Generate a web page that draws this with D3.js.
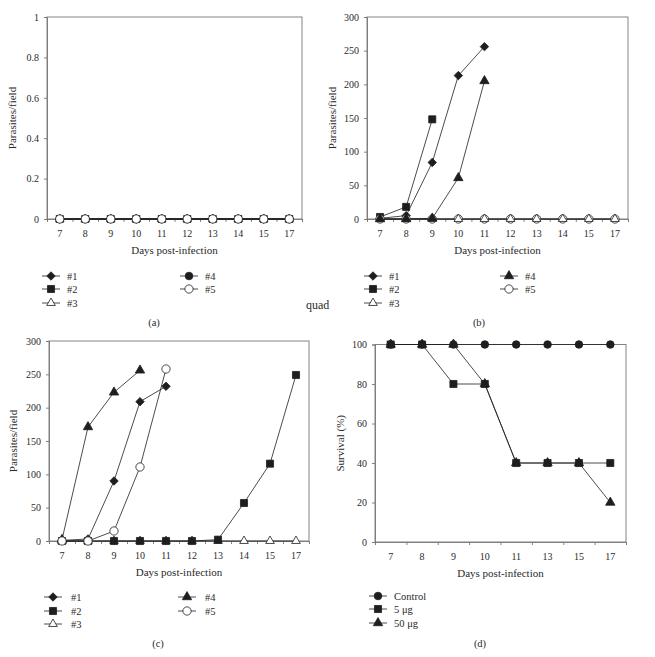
<!DOCTYPE html>
<html>
<head>
<meta charset="utf-8">
<script src="https://cdn.jsdelivr.net/npm/d3@7"></script>
<style>
  body { margin: 0; background: #fff; }
  svg text { font-family: "Liberation Serif", "DejaVu Serif", serif; }
</style>
</head>
<body>
<svg width="655" height="657"></svg>
<script>
// days on the x axis
const daysABC = ['7', '8', '9', '10', '11', '12', '13', '14', '15', '17']
const daysD = ['7', '8', '9', '10', '11', '13', '15', '17']

const mouseNames = ['#1', '#2', '#3', '#4', '#5']
const groupNames = ['Control', '5 μg', '50 μg']

// parasites/field, null = no more readings (animal died)
const valuesA = [
    [0, 0, 0, 0, 0, 0, 0, 0, 0, 0],
    [0, 0, 0, 0, 0, 0, 0, 0, 0, 0],
    [0, 0, 0, 0, 0, 0, 0, 0, 0, 0],
    [0, 0, 0, 0, 0, 0, 0, 0, 0, 0],
    [0, 0, 0, 0, 0, 0, 0, 0, 0, 0]
]
const valuesB = [
    [1, 5, 84, 213, 256, null, null, null, null, null],
    [3, 18, 148, null, null, null, null, null, null, null],
    [0, 0, 0, 0, 0, 0, 0, 0, 0, 0],
    [0, 0, 1, 61, 205, null, null, null, null, null],
    [0, 0, 0, 0, 0, 0, 0, 0, 0, 0]
]
const valuesC = [
    [1, 3, 90, 209, 232, null, null, null, null, null],
    [0, 0, 0, 0, 0, 0, 2, 57, 116, 249],
    [0, 0, 0, 0, 0, 0, 0, 0, 0, 0],
    [2, 171, 223, 256, null, null, null, null, null, null],
    [0, 0, 15, 111, 258, null, null, null, null, null]
]
// survival (%)
const valuesD = [
    [100, 100, 100, 100, 100, 100, 100, 100],
    [100, 100, 80, 80, 40, 40, 40, 40],
    [100, 100, 100, 80, 40, 40, 40, 20]
]

const ticksParasitesSmall = [0, 0.2, 0.4, 0.6, 0.8, 1]
const ticksParasites = [0, 50, 100, 150, 200, 250, 300]
const ticksSurvival = [0, 20, 40, 60, 80, 100]

const svg = d3.select('svg')
const ink = '#1e1e1e'
const textInk = '#2a2a2a'
const axisGrey = '#777'

// square turned 45 degrees
const symbolRhomb = {
    draw(context, size) {
        const r = Math.sqrt(size / 2)
        context.moveTo(0, -r)
        context.lineTo(r, 0)
        context.lineTo(0, r)
        context.lineTo(-r, 0)
        context.closePath()
    }
}

const markers = {
    diamond: { type: symbolRhomb, size: 36, fill: ink },
    square: { type: d3.symbolSquare, size: 50, fill: ink },
    triOpen: { type: d3.symbolTriangle, size: 32, fill: '#fff' },
    triFilled: { type: d3.symbolTriangle, size: 38, fill: ink },
    dot: { type: d3.symbolCircle, size: 46, fill: ink },
    ring: { type: d3.symbolCircle, size: 54, fill: '#fff' }
}

const drawMarker = (g, m, x, y) => {
    g.append('path')
        .attr('transform', `translate(${x},${y})`)
        .attr('d', d3.symbol().type(m.type).size(m.size)())
        .attr('fill', m.fill)
        .attr('stroke', ink)
        .attr('stroke-width', 0.8)
}

const drawPanel = p => {
    const x = d3.scaleBand().domain(p.days).range(p.xRange)
    const y = d3.scaleLinear().domain(p.yDomain).range(p.yRange)
    const g = svg.append('g')

    // frame
    g.append('rect')
        .attr('x', p.xRange[0]).attr('y', p.yRange[1])
        .attr('width', p.xRange[1] - p.xRange[0])
        .attr('height', p.yRange[0] - p.yRange[1])
        .attr('fill', 'none').attr('stroke', axisGrey).attr('stroke-width', 0.9)

    // y axis
    const yAxis = g.append('g')
        .attr('transform', `translate(${p.xRange[0]},0)`)
        .call(d3.axisLeft(y).tickValues(p.yTicks).tickSize(3).tickPadding(5)
            .tickFormat(d3.format('~g')))
    yAxis.selectAll('text').attr('font-size', 10).attr('fill', textInk)

    // x axis: ticks at day boundaries, labels at day centres
    const edges = d3.scaleLinear().domain([0, p.days.length]).range(p.xRange)
    g.append('g')
        .attr('transform', `translate(0,${p.yRange[0]})`)
        .call(d3.axisBottom(edges).ticks(p.days.length).tickSize(3).tickFormat(''))
    const xAxis = g.append('g')
        .attr('transform', `translate(0,${p.yRange[0]})`)
        .call(d3.axisBottom(x).tickSize(0).tickPadding(11))
    xAxis.select('.domain').remove()
    xAxis.selectAll('text').attr('font-size', 10).attr('fill', textInk)

    g.selectAll('.domain, .tick line').attr('stroke', axisGrey).attr('stroke-width', 0.9)

    // titles
    g.append('text')
        .attr('x', (p.xRange[0] + p.xRange[1]) / 2)
        .attr('y', p.yRange[0] + 35)
        .attr('text-anchor', 'middle').attr('font-size', 11).attr('fill', textInk)
        .text('Days post-infection')
    g.append('text')
        .attr('transform', `translate(${p.yTitleX},${(p.yRange[0] + p.yRange[1]) / 2}) rotate(-90)`)
        .attr('text-anchor', 'middle').attr('font-size', 11).attr('fill', textInk)
        .text(p.yTitle)

    // series
    const cx = d => x(d) + x.bandwidth() / 2
    const line = d3.line()
        .defined(d => d.v !== null)
        .x(d => cx(d.day)).y(d => y(d.v))
    p.values.forEach(vals => {
        const pts = vals.map((v, j) => ({ day: p.days[j], v }))
        g.append('path').datum(pts)
            .attr('d', line).attr('fill', 'none')
            .attr('stroke', ink).attr('stroke-width', 0.8)
    })
    p.order.forEach(i => {
        p.values[i].forEach((v, j) => {
            if (v !== null) drawMarker(g, markers[p.markers[i]], cx(p.days[j]), y(v))
        })
    })

    // legend
    p.names.forEach((name, i) => {
        const [lx, ly] = p.legendCols[i]
        g.append('line')
            .attr('x1', lx - 9).attr('x2', lx + 9).attr('y1', ly).attr('y2', ly)
            .attr('stroke', ink).attr('stroke-width', 0.8)
        drawMarker(g, markers[p.markers[i]], lx, ly)
        g.append('text')
            .attr('x', lx + p.legendGap).attr('y', ly + 3.5)
            .attr('font-size', 10.5).attr('fill', textInk).text(name)
    })

    g.append('text')
        .attr('x', p.caption[0]).attr('y', p.caption[1])
        .attr('text-anchor', 'middle').attr('font-size', 10.5).attr('fill', textInk)
        .text(p.label)
}

drawPanel({
    label: '(a)', caption: [154, 326],
    days: daysABC, values: valuesA, names: mouseNames,
    markers: ['diamond', 'square', 'triOpen', 'dot', 'ring'],
    order: [0, 1, 2, 3, 4],
    xRange: [47, 302], yRange: [219, 17], yDomain: [0, 1], yTicks: ticksParasitesSmall,
    yTitle: 'Parasites/field', yTitleX: 16,
    legendCols: [[51, 276], [51, 289], [51, 303], [189, 276], [189, 289]], legendGap: 16
})

drawPanel({
    label: '(b)', caption: [479, 326],
    days: daysABC, values: valuesB, names: mouseNames,
    markers: ['diamond', 'square', 'triOpen', 'triFilled', 'ring'],
    order: [0, 1, 4, 2, 3],
    xRange: [367, 628], yRange: [219, 17], yDomain: [0, 300], yTicks: ticksParasites,
    yTitle: 'Parasites/field', yTitleX: 336,
    legendCols: [[373, 276], [373, 289], [373, 303], [509, 276], [509, 289]], legendGap: 16
})

drawPanel({
    label: '(c)', caption: [158, 647],
    days: daysABC, values: valuesC, names: mouseNames,
    markers: ['diamond', 'square', 'triOpen', 'triFilled', 'ring'],
    order: [0, 2, 1, 3, 4],
    xRange: [49, 309], yRange: [541, 341], yDomain: [0, 300], yTicks: ticksParasites,
    yTitle: 'Parasites/field', yTitleX: 17,
    legendCols: [[53, 597], [53, 611], [53, 624], [187, 597], [187, 611]], legendGap: 18
})

drawPanel({
    label: '(d)', caption: [480, 647],
    days: daysD, values: valuesD, names: groupNames,
    markers: ['dot', 'square', 'triFilled'],
    order: [2, 0, 1],
    xRange: [375, 626], yRange: [542, 344.5], yDomain: [0, 100], yTicks: ticksSurvival,
    yTitle: 'Survival (%)', yTitleX: 344,
    legendCols: [[378, 596], [378, 609], [378, 623]], legendGap: 16
})

svg.append('text')
    .attr('x', 306).attr('y', 309)
    .attr('font-size', 12).attr('fill', textInk)
    .text('quad')
</script>
</body>
</html>
